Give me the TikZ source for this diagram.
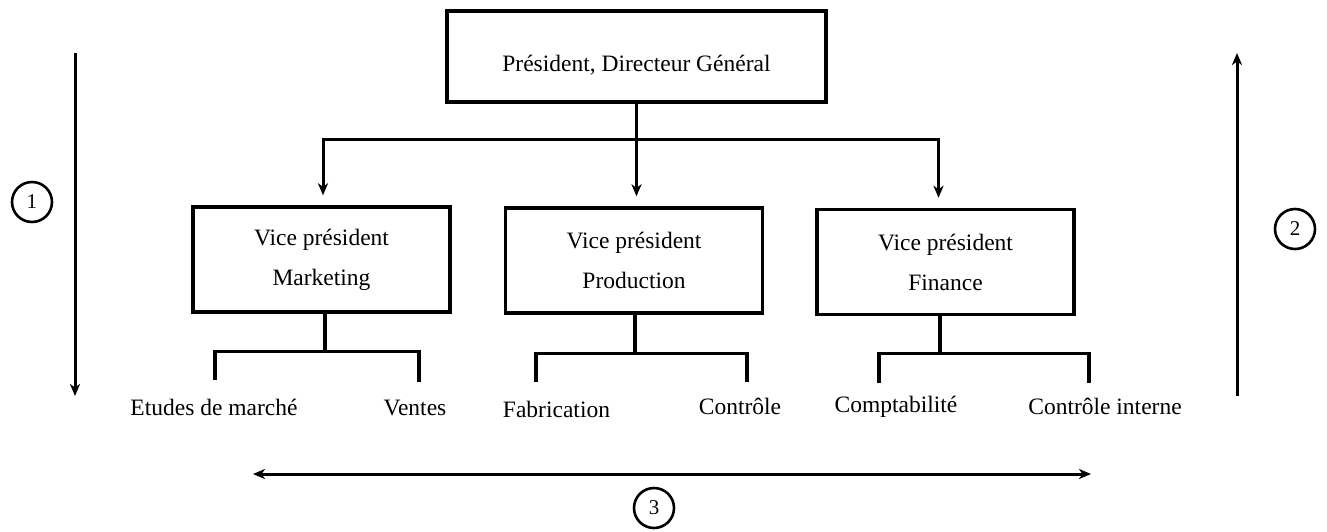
\documentclass[tikz,border=0pt]{standalone}
\usepackage{fontspec}
\setmainfont{Liberation Serif}
\usetikzlibrary{arrows.meta}
\begin{document}
\begin{tikzpicture}[x=1pt,y=-1pt,
  every node/.style={font=\fontsize{23.5}{40}\selectfont},
  box/.style={draw, line width=3.4pt, minimum width=257pt, minimum height=105pt, inner sep=0pt, align=center},
  topbox/.style={draw, line width=3.4pt, minimum width=379pt, minimum height=91pt, inner sep=0pt},
  conn/.style={line width=3.4pt},
  arr/.style={line width=3pt, -{Stealth[length=12pt,width=10pt,inset=3.5pt]}},
  darr/.style={line width=3pt, {Stealth[length=12pt,width=10pt,inset=3.5pt]}-{Stealth[length=12pt,width=10pt,inset=3.5pt]}},
  num/.style={draw, circle, line width=2.6pt, minimum size=40pt, inner sep=0pt, font=\fontsize{21}{24}\selectfont},
  leaf/.style={anchor=base, inner sep=0pt}]
\useasboundingbox (0,0) rectangle (1327,531);

% top box
\node[topbox] (top) at (636.5,56.5) {};
\node[anchor=base, inner sep=0pt] (toptxt) at (636.5,71.5) {Président, Directeur Général};

% VP boxes
\node[box] (mkt) at (321.5,259.5) {Vice président\\Marketing};
\node[box] (prod) at (634,260.5) {Vice président\\Production};
\node[box] (fin) at (945.5,262) {Vice président\\Finance};

% top connectors
\draw[conn] (top.south) -- ++(0,36) coordinate (bar);
\draw[arr, shorten >=10pt] (bar) -| ([xshift=1.5pt]mkt.north);
\draw[arr, shorten >=10pt] (top.south) -- (top.south |- prod.north);
\draw[arr, shorten >=10pt] (bar) -| ([xshift=-7pt]fin.north);

% leaves
\node[leaf] (etu) at (214,415) {Etudes de marché};
\node[leaf] (ven) at (415,415) {Ventes};
\node[leaf] (fab) at (556.5,417) {Fabrication};
\node[leaf] (ctl) at (740,414) {Contrôle};
\node[leaf] (cpt) at (896,412) {Comptabilité};
\node[leaf] (cti) at (1105,414) {Contrôle interne};

% leaf leg ends
\coordinate (e1) at (215,380);
\coordinate (e2) at (419,382);
\coordinate (f1) at (536,382);
\coordinate (f2) at (747,382);
\coordinate (g1) at (879,383);
\coordinate (g2) at (1089,383);

% brackets
\draw[conn] ([xshift=3.5pt]mkt.south) -- ++(0,38) coordinate (mb);
\draw[conn] (e1) |- (mb) -| (e2);
\draw[conn] ([xshift=1pt]prod.south) -- ++(0,39) coordinate (pb);
\draw[conn] (f1) |- (pb) -| (f2);
\draw[conn] ([xshift=-5.5pt]fin.south) -- ++(0,37) coordinate (fb);
\draw[conn] (g1) |- (fb) -| (g2);

% side arrows
\coordinate (la) at (75,53);
\coordinate (lb) at (75,396);
\draw[arr] (la) -- (lb);
\coordinate (ra) at (1237,396);
\coordinate (rb) at (1237,53);
\draw[arr] (ra) -- (rb);
\coordinate (ba) at (253,474);
\coordinate (bb) at (1091,474);
\draw[darr] (ba) -- (bb);

% numbers
\node[num] (n1) at (32,202) {1};
\node[num] (n2) at (1295,229) {2};
\node[num] (n3) at (654,508) {3};
\end{tikzpicture}
\end{document}
